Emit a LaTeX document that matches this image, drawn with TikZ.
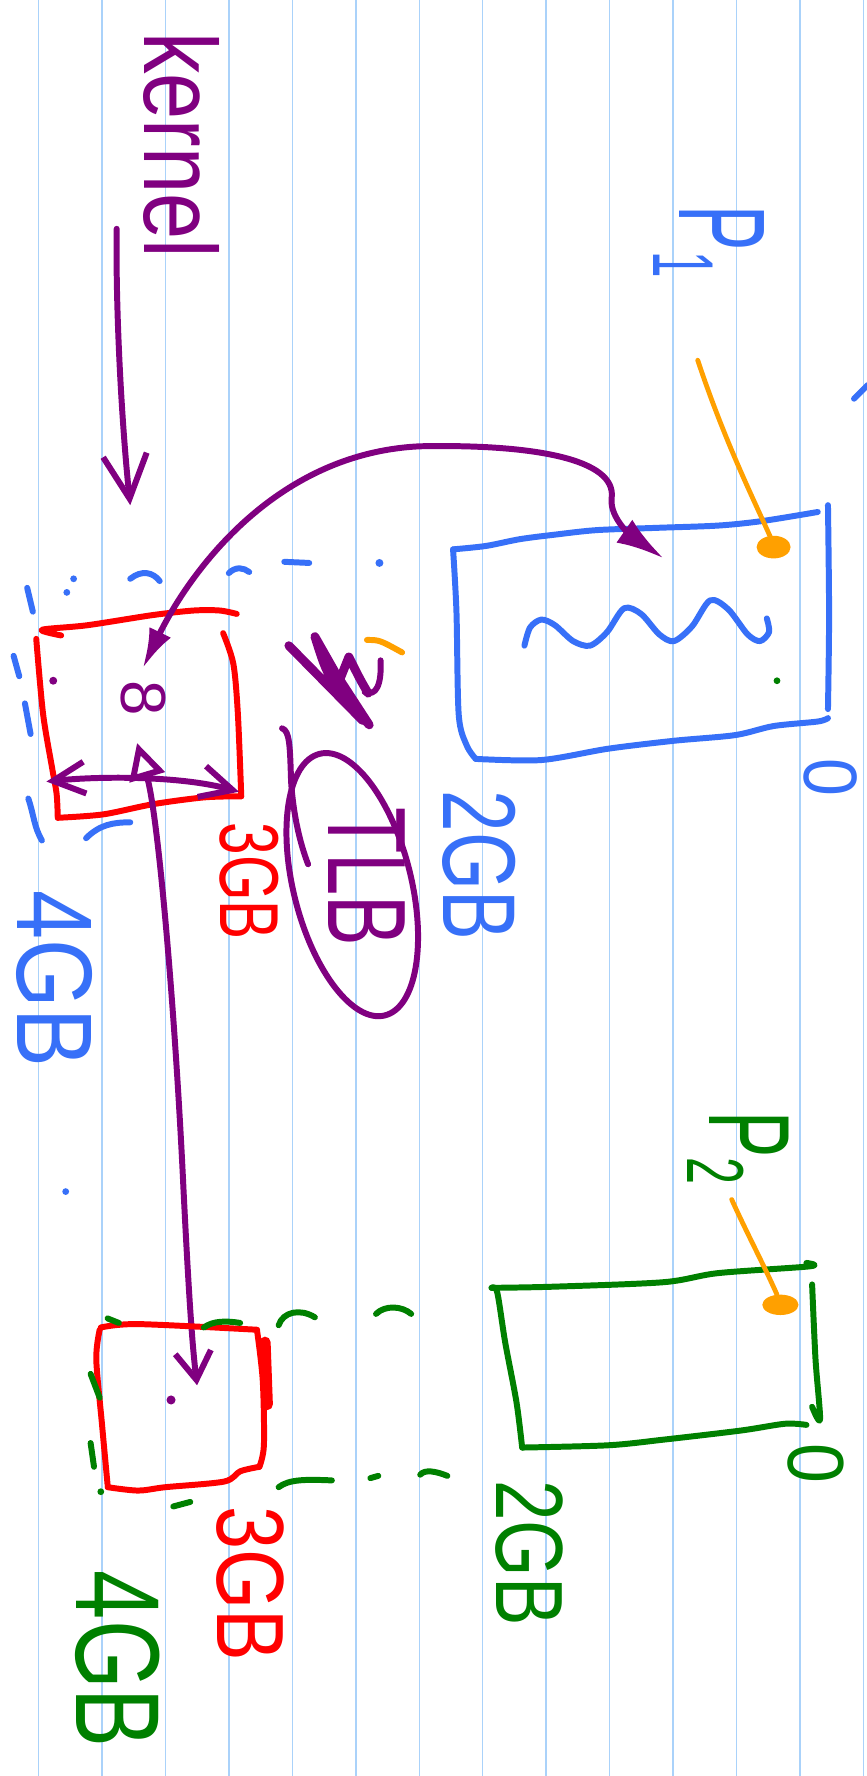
\documentclass[tikz,border=0pt]{standalone}
\usepackage{fontspec}
\setmainfont{Liberation Sans}
\usetikzlibrary{arrows.meta}
\definecolor{penblue}{RGB}{55,112,248}
\definecolor{penred}{RGB}{255,0,0}
\definecolor{penpurple}{RGB}{128,0,128}
\definecolor{pengreen}{RGB}{0,128,0}
\definecolor{penorange}{RGB}{255,160,0}
\definecolor{ruleblue}{RGB}{170,210,250}
\newcommand\hw[1]{\fontsize{#1}{#1}\selectfont}

\begin{document}
\begin{tikzpicture}[x=0.01cm, y=-0.01cm,
    pen/.style={line width=1.5pt, line cap=round, line join=round},
    lbl/.style={rotate=-90, inner sep=0pt}]
    \useasboundingbox[fill=white] (0,0) rectangle (765,1568);
    % ruled paper
    \foreach \k in {0,...,13}
        \draw[ruleblue, line width=0.35pt] ({34.2+56*\k},0) -- ({34.2+56*\k},1568);

    % P1 space (blue frame)
    \draw[pen, penblue] plot[smooth] coordinates {(722,452) (673,460) (634,464) (580,466) (527,468) (490,472) (459,476) (429,482) (400,485)};
    \draw[pen, penblue] plot[smooth] coordinates {(400,485) (403,540) (405,631) (412,658) (420,670)};
    \draw[pen, penblue] plot[smooth] coordinates {(420,670) (478,671) (537,661) (595,654) (649,649) (683,641) (722,637) (731,634)};
    \draw[pen, penblue] plot[smooth] coordinates {(731,446) (732,543) (731,626)};
    \draw[pen, penblue] plot[smooth] coordinates {(463,570) (468,554) (478,547) (490,552) (506,566) (521,570) (536,558) (551,537) (566,542) (582,560) (595,566) (611,553) (627,530) (643,538) (660,560) (671,566) (679,558) (677,546)};
    \fill[pengreen] (686,601) circle (3);
    \node[lbl, penblue, font=\hw{31}, xscale=0.55] (p1) at (626,214) {P\textsubscript{1}};
    \node[lbl, penblue, font=\hw{19}, xscale=0.9] (zeroa) at (733,686) {0};
    \node[lbl, penblue, font=\hw{26}, xscale=0.72] (gba) at (423,764) {2GB};
    \draw[pen, penblue] (754,352) -- (766,340);

    % physical frame 1 (red)
    \draw[pen, penred] plot[smooth] coordinates {(54,561) (37,556) (77,552) (135,543) (171,539) (194,539) (209,542)};
    \draw[pen, penred] plot[smooth] coordinates {(197,559) (206,586) (210,630) (213,703)};
    \draw[pen, penred] plot[smooth] coordinates {(32,564) (38,630) (46,678) (50,701) (51,722)};
    \draw[pen, penred] plot[smooth] coordinates {(51,722) (91,719) (135,710) (180,704) (213,703)};
    \fill[penpurple] (47,601) circle (3.5);
    \node[lbl, penpurple, font=\hw{16}] (eight) at (127,616) {8};
    \node[lbl, penred, font=\hw{21}, xscale=0.7] (gbb) at (220,778) {3GB};
    \node[lbl, penblue, font=\hw{27}, xscale=0.82] (gbc) at (48,864) {4GB};
    % blue dashes round it
    \draw[pen, penblue] (24,519) -- (29,540);
    \fill[penblue] (65,511) circle (3) (59,523) circle (3);
    \draw[pen, penblue] (115,511) .. controls (125,503) and (135,505) .. (141,513);
    \draw[pen, penblue] (202,506) .. controls (208,500) and (215,501) .. (220,505);
    \draw[pen, penblue] (251,496) -- (273,497);
    \fill[penblue] (335,497) circle (3.5);
    \draw[pen, penblue] (12,579) -- (17,597);
    \draw[pen, penblue] (22,621) -- (27,648);
    \draw[pen, penblue] (25,705) .. controls (30,720) and (30,730) .. (37,742);
    \draw[pen, penblue] (76,740) .. controls (88,728) and (100,726) .. (115,726);

    % kernel label and arrow
    \node[lbl, penpurple, font=\hw{26}, xscale=0.8] (kernel) at (160,128) {kernel};
    \coordinate (kfrom) at (103,202);
    \coordinate (kto) at (115,446);
    \draw[pen, penpurple, -{Straight Barb[length=11pt, width=11pt]}] (kfrom) .. controls (102,280) and (108,380) .. (kto);

    % mapping arrows
    \coordinate (r1arr) at (126,590);
    \coordinate (b1arr) at (586,493);
    \draw[pen, penpurple, {Latex[length=10pt, width=6pt]}-{Latex[length=12pt, width=7pt]}]
        (r1arr) .. controls (165,510) and (240,400) .. (371,394)
        .. controls (470,392) and (545,405) .. (540,440)
        .. controls (538,458) and (560,475) .. (b1arr);
    \coordinate (r1l) at (41,690);
    \coordinate (r1r) at (211,699);
    \draw[pen, penpurple, {Straight Barb[length=8pt, width=8pt]}-{Straight Barb[length=8pt, width=8pt]}] (r1l) .. controls (90,685) and (160,685) .. (r1r);
    \coordinate (r1up) at (121,656);
    \coordinate (r2in) at (174,1223);
    \draw[pen, penpurple, {Triangle[open, length=9pt, width=9pt]}-{Straight Barb[length=7pt, width=9pt]}]
        (r1up) .. controls (140,720) and (155,900) .. (162,1050)
        .. controls (167,1150) and (170,1190) .. (r2in);

    % orange pointer from P1
    \coordinate (p1tail) at (616,318);
    \coordinate (p1dot) at (681,476);
    \draw[pen, penorange, line width=1.2pt] (p1tail) .. controls (640,390) and (665,440) .. (p1dot);
    \fill[penorange] (683,483) ellipse [x radius=15, y radius=10];

    % crossed-out word and TLB
    \draw[penpurple, line width=2.2pt, line cap=round, line join=round]
        (255,570) -- (320,636) -- (278,562) .. controls (290,600) .. (326,640) -- (300,600) -- (308,580) .. controls (318,600) .. (325,612);
    \draw[pen, penpurple] (336,583) .. controls (337,605) and (332,615) .. (322,611);
    \draw[pen, penorange] (324,565) .. controls (335,565) .. (355,576);
    \draw[pen, penpurple] (249,643) .. controls (256,645) and (256,660) .. (257,690) .. controls (259,720) and (265,745) .. (272,763);
    \draw[pen, penpurple, rotate around={14:(311,781)}] (311,781) ellipse [x radius=52, y radius=119];
    \node[lbl, penpurple, font=\hw{28}, xscale=0.68] (tlb) at (324,774) {TLB};

    % P2 space (green frame)
    \draw[pen, pengreen] plot[smooth] coordinates {(712,1115) (715,1118) (634,1124) (586,1132) (488,1136) (434,1137)};
    \draw[pen, pengreen] plot[smooth] coordinates {(434,1137) (439,1141) (446,1185) (456,1238) (461,1278)};
    \draw[pen, pengreen] plot[smooth] coordinates {(461,1278) (537,1276) (586,1271) (654,1263) (693,1257) (712,1258)};
    \draw[pen, pengreen] plot[smooth] coordinates {(717,1134) (720,1200) (724,1253) (717,1242)};
    \node[lbl, pengreen, font=\hw{29}, xscale=0.6] (p2) at (652,1014) {P\textsubscript{2}};
    \node[lbl, pengreen, font=\hw{20}, xscale=0.9] (zerob) at (720,1292) {0};
    \node[lbl, pengreen, font=\hw{24}, xscale=0.76] (gbd) at (467,1371) {2GB};
    \coordinate (p2tail) at (646,1059);
    \coordinate (p2dot) at (686,1143);
    \draw[pen, penorange, line width=1.2pt] (p2tail) .. controls (660,1090) and (675,1118) .. (p2dot);
    \fill[penorange] (689,1152) ellipse [x radius=16, y radius=9];

    % physical frame 2 (red)
    \draw[pen, penred] plot[smooth] coordinates {(89,1172) (122,1169) (227,1174)};
    \draw[pen, penred] plot[smooth] coordinates {(227,1175) (232,1219) (233,1276) (229,1295)};
    \draw[penred, line width=2.8pt, line cap=round] (234,1185) -- (236,1240);
    \draw[pen, penred] plot[smooth] coordinates {(229,1295) (212,1299) (198,1308) (146,1313) (122,1316) (95,1313)};
    \draw[pen, penred] plot[smooth] coordinates {(88,1174) (85,1200) (90,1257) (95,1311)};
    \fill[penpurple] (151,1236) circle (4);
    \fill[penblue] (58,1052) circle (3);
    \node[lbl, penred, font=\hw{24}, xscale=0.81] (gbe) at (221,1398) {3GB};
    \node[lbl, pengreen, font=\hw{30}, xscale=0.74] (gbf) at (104,1465) {4GB};
    % green dashes round it
    \draw[pen, pengreen] (95,1164) -- (105,1168);
    \draw[pen, pengreen] (180,1172) .. controls (188,1166) and (200,1166) .. (212,1168);
    \draw[pen, pengreen] (246,1170) .. controls (250,1158) and (265,1155) .. (278,1163);
    \draw[pen, pengreen] (332,1160) .. controls (340,1152) and (355,1153) .. (363,1160);
    \draw[pen, pengreen] (80,1213) -- (88,1234);
    \draw[pen, pengreen] (80,1274) -- (83,1295);
    \fill[pengreen] (89,1317) circle (3);
    \draw[pen, pengreen] (153,1330) -- (168,1326);
    \draw[pen, pengreen] (246,1313) .. controls (255,1306) and (270,1306) .. (293,1307);
    \draw[pen, pengreen] (327,1305) -- (334,1303);
    \draw[pen, pengreen] (371,1302) .. controls (375,1297) and (385,1299) .. (395,1303);
\end{tikzpicture}
\end{document}
